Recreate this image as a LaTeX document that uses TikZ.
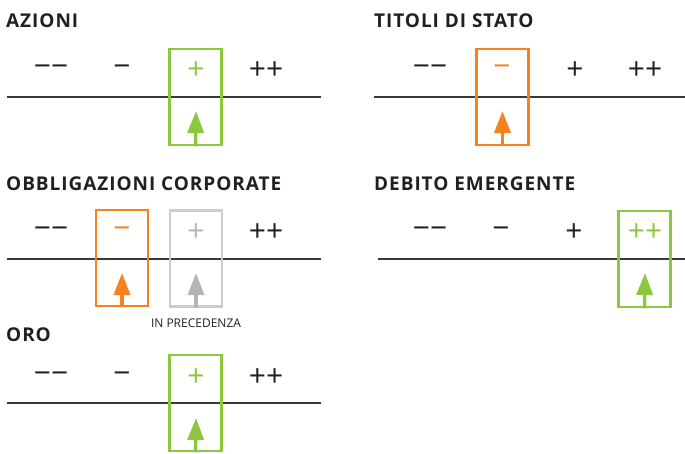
\documentclass[tikz,border=0pt]{standalone}
\usepackage{fontspec}
\setmainfont{Open Sans}
\usetikzlibrary{arrows.meta}
\definecolor{ink}{HTML}{231F20}
\definecolor{axisc}{HTML}{3A3A3A}
\definecolor{grn}{HTML}{8DC63F}
\definecolor{org}{HTML}{F5821F}
\definecolor{gryb}{HTML}{CCCCCC}
\definecolor{grya}{HTML}{B5B5B5}
\tikzset{
  ttl/.style={anchor=base west,inner sep=0pt,text=ink,font=\fontsize{19}{20}\selectfont\bfseries\addfontfeature{LetterSpace=5}},
  sym/.style={inner sep=0pt,text=ink,font=\fontsize{30}{31}\selectfont},
  axisline/.style={draw=axisc,line width=1.1pt},
  hibox/.style={draw=#1,line width=2.6pt,minimum width=52pt,minimum height=96pt,inner sep=0pt},
  uparrow/.style={draw=#1,line width=3.6pt,-{Triangle[width=16pt,length=22pt,fill=#1]}},
  note/.style={inner sep=0pt,text=ink,font=\fontsize{12}{13}\selectfont},
}
\newcommand{\mm}{\char"2212}
\begin{document}
\begin{tikzpicture}[x=1pt,y=-1pt]
\useasboundingbox (0,0) rectangle (685,453);
% ---------- AZIONI ----------
\node[ttl] (t1) at (6,27) {AZIONI};
\node[sym] (a1) at (51,71) {\mm\kern0pt\mm};
\node[sym] (a2) at (122,71) {\mm};
\node[sym,text=grn] (a3) at (196,71) {+};
\node[sym] (a4) at (266,71) {++};
\coordinate (l1a) at (7,97); \coordinate (l1b) at (321,97);
\draw[axisline] (l1a) -- (l1b);
\node[hibox=grn] (b1) at (195.5,97) {};
\coordinate (p1) at (196,111);
\draw[uparrow=grn] (b1.south) -- (p1);
% ---------- TITOLI DI STATO ----------
\node[ttl] (t2) at (374,27) {TITOLI DI STATO};
\node[sym] (c1) at (430,71) {\mm\kern0pt\mm};
\node[sym,text=org] (c2) at (502,71) {\mm};
\node[sym] (c3) at (575,71) {+};
\node[sym] (c4) at (645,71) {++};
\coordinate (l2a) at (374,97); \coordinate (l2b) at (685,97);
\draw[axisline] (l2a) -- (l2b);
\node[hibox=org] (b2) at (502.5,97) {};
\coordinate (p2) at (502.5,111);
\draw[uparrow=org] (b2.south) -- (p2);
% ---------- OBBLIGAZIONI CORPORATE ----------
\node[ttl] (t3) at (6,190) {OBBLIGAZIONI CORPORATE};
\node[sym] (d1) at (51,233) {\mm\kern0pt\mm};
\node[sym,text=org] (d2) at (122,233) {\mm};
\node[sym,text=grya] (d3) at (196,233) {+};
\node[sym] (d4) at (266,233) {++};
\coordinate (l3a) at (7,259); \coordinate (l3b) at (321,259);
\draw[axisline] (l3a) -- (l3b);
\node[hibox=org] (b3) at (122,258) {};
\node[hibox=gryb] (b4) at (196,258.5) {};
\coordinate (p3) at (122,273);
\coordinate (p4) at (196,273);
\draw[uparrow=org] (b3.south) -- (p3);
\draw[uparrow=grya] (b4.south) -- (p4);
\node[note,anchor=base] (n1) at (196,327) {IN PRECEDENZA};
% ---------- DEBITO EMERGENTE ----------
\node[ttl] (t4) at (374,190) {DEBITO EMERGENTE};
\node[sym] (e1) at (430,233) {\mm\kern0pt\mm};
\node[sym] (e2) at (501,233) {\mm};
\node[sym] (e3) at (574,233) {+};
\node[sym,text=grn] (e4) at (645,233) {++};
\coordinate (l4a) at (378,259); \coordinate (l4b) at (685,259);
\draw[axisline] (l4a) -- (l4b);
\node[hibox=grn] (b5) at (644.5,259) {};
\coordinate (p5) at (645,273);
\draw[uparrow=grn] (b5.south) -- (p5);
% ---------- ORO ----------
\node[ttl] (t5) at (6,341) {ORO};
\node[sym] (f1) at (51,378) {\mm\kern0pt\mm};
\node[sym] (f2) at (122,378) {\mm};
\node[sym,text=grn] (f3) at (196,378) {+};
\node[sym] (f4) at (266,378) {++};
\coordinate (l5a) at (7,403); \coordinate (l5b) at (321,403);
\draw[axisline] (l5a) -- (l5b);
\node[hibox=grn] (b6) at (195.5,403) {};
\coordinate (p6) at (196,418);
\draw[uparrow=grn] (b6.south) -- (p6);
\end{tikzpicture}
\end{document}
